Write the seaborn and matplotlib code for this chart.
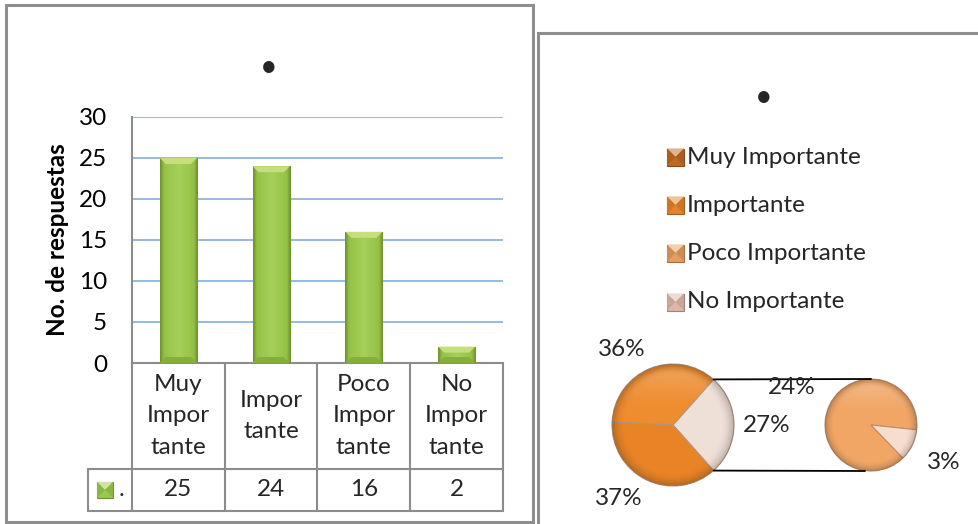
import numpy as np
import pandas as pd
import matplotlib
matplotlib.use("Agg")
import matplotlib.pyplot as plt
from matplotlib.patches import Rectangle, Polygon
from matplotlib.transforms import blended_transform_factory
from matplotlib.colors import to_rgb, LinearSegmentedColormap
import seaborn as sns

# ---- data ----
categories = ["Muy Importante", "Importante", "Poco Importante", "No Importante"]
category_ticks = ["Muy\nImpor\ntante", "Impor\ntante", "Poco\nImpor\ntante", "No\nImpor\ntante"]
responses = [25, 24, 16, 2]
y_ticks = [0, 5, 10, 15, 20, 25, 30]
y_label = "No. de respuestas"
series_name = "."
chart_title = "\u2022"

# ---- styling ----
W, H, DPI = 979, 524, 100
FS = 17.5
GRID = "#8DB3E2"
LINE = "#8C8C8C"
BAR_GREEN = "#9CC94C"
legend_colors = ["#BE6A22", "#E3842A", "#E69D5E", "#DDB8A8"]
main_colors = {"other": "#EFE0D7", "Importante": "#EE8C30", "Muy Importante": "#E88426"}
sec_colors = ["#F1A666", "#F6DDCD"]

sns.set_theme(style="white")
plt.rcParams["font.family"] = ["Lato", "DejaVu Sans"]

fig = plt.figure(figsize=(W / DPI, H / DPI), dpi=DPI)
fig.patch.set_facecolor("white")


def px_rect(x0, y0, x1, y1):
    return [x0 / W, 1 - y1 / H, (x1 - x0) / W, (y1 - y0) / H]


def bevel_square(axis, cx, cy, s, color):
    base = np.array(to_rgb(color))
    light = base + (1 - base) * 0.5
    dark = base * 0.72
    h = s / 2
    tl, tr, bl, br, c = (cx - h, cy + h), (cx + h, cy + h), (cx - h, cy - h), (cx + h, cy - h), (cx, cy)
    axis.add_patch(Polygon([bl, br, tr, tl], closed=True, fc=base, ec=dark, lw=0.8, zorder=5))
    axis.add_patch(Polygon([tl, tr, c], closed=True, fc=light, ec="none", zorder=6))
    axis.add_patch(Polygon([tl, bl, c], closed=True, fc=base * 0.9, ec="none", zorder=6))
    axis.add_patch(Polygon([tr, br, c], closed=True, fc=base * 0.9, ec="none", zorder=6))


def pct_label(axis, center, r, wedge, value, dist):
    """Percentage label just outside a wedge, aligned away from the pie."""
    mid = np.deg2rad((wedge.theta1 + wedge.theta2) / 2)
    c, s = np.cos(mid), np.sin(mid)
    x, y = center[0] + r * dist * c, center[1] + r * dist * s
    ha = "right" if c < -0.1 else ("left" if c > 0.1 else "center")
    va = "bottom" if s > 0.3 else ("top" if s < -0.3 else "center")
    axis.text(x, y, f"{round(100 * value / total)}%", ha=ha, va=va, fontsize=FS)


# ---- column chart ----
ax = fig.add_axes(px_rect(132, 117, 503, 363))
df = pd.DataFrame({"categoria": categories, "respuestas": responses})
sns.barplot(data=df, x="categoria", y="respuestas", color=BAR_GREEN, saturation=1,
            width=0.4, ax=ax, zorder=3, edgecolor="#6E8E2B", linewidth=0.6)

green_cmap = LinearSegmentedColormap.from_list(
    "bevel_green", [(0, "#6F8F2C"), (0.1, "#94C246"), (0.5, "#A6D05A"), (0.9, "#94C246"), (1, "#6F8F2C")])
grad = np.linspace(0, 1, 64)[None, :]
ppy = 246 / 30.0  # pixels per unit on the value axis
for bar in list(ax.patches):
    x0, y0 = bar.get_x(), bar.get_y()
    w, h = bar.get_width(), bar.get_height()
    im = ax.imshow(grad, cmap=green_cmap, extent=[x0, x0 + w, y0, y0 + h],
                   aspect="auto", zorder=3.1, interpolation="bicubic")
    im.set_clip_path(bar)
    bev = min(6 / ppy, h / 2)
    dx = w * 0.16
    top = y0 + h
    ax.add_patch(Polygon([(x0, top), (x0 + w, top), (x0 + w - dx, top - bev), (x0 + dx, top - bev)],
                         closed=True, fc="#C4DF7C", ec="none", zorder=3.2))
    ax.add_patch(Polygon([(x0, y0), (x0 + w, y0), (x0 + w - dx, y0 + bev), (x0 + dx, y0 + bev)],
                         closed=True, fc="#86AE3C", ec="none", zorder=3.2))

ax.set_xlim(-0.5, 3.5)
ax.set_ylim(0, 30)
ax.set_yticks(y_ticks)
ax.set_axisbelow(True)
ax.yaxis.grid(True, color=GRID, lw=1.3)
ax.xaxis.grid(False)
ax.tick_params(axis="x", length=0, labelbottom=False)
ax.tick_params(axis="y", length=0, pad=18, labelsize=FS, labelcolor="black")
ax.set_xlabel("")
ax.set_ylabel(y_label, fontsize=FS, fontweight="bold", color="black")
ax.yaxis.label.set_va("center")
ax.yaxis.set_label_coords(-0.2, 0.5)
for side in ("top", "right"):
    ax.spines[side].set_visible(False)
for side in ("left", "bottom"):
    ax.spines[side].set_color(LINE)
    ax.spines[side].set_linewidth(1.5)
ax.set_facecolor("white")

# data table under the columns
tb = blended_transform_factory(ax.transData, ax.transAxes)
row1 = -106 / 246
row2 = -148 / 246
key_left = -0.5 - 44 / 92.75
n = len(categories)
for i in range(n + 1):
    ax.plot([i - 0.5, i - 0.5], [0, row2], transform=tb, color=LINE, lw=1.5, clip_on=False)
for r in (row1, row2):
    ax.plot([key_left, n - 0.5], [r, r], transform=tb, color=LINE, lw=1.5, clip_on=False)
ax.plot([key_left, key_left], [row1, row2], transform=tb, color=LINE, lw=1.5, clip_on=False)
for i, (lab, val) in enumerate(zip(category_ticks, responses)):
    ax.text(i, row1 / 2, lab, transform=tb, ha="center", va="center", fontsize=FS,
            linespacing=1.62, clip_on=False)
    ax.text(i, (row1 + row2) / 2, f"{val}", transform=tb, ha="center", va="center",
            fontsize=FS, clip_on=False)

# ---- overlay in pixel units: frames, titles, pie of pie ----
ov = fig.add_axes([0, 0, 1, 1])
ov.set_xlim(0, W)
ov.set_ylim(0, H)
ov.axis("off")

ov.add_patch(Rectangle((6, H - 522), 527, 517, fill=False, ec="#8E8E8E", lw=2.2))
ov.add_patch(Rectangle((538, -20), 480, H - 33 + 20, fill=False, ec="#8E8E8E", lw=2.2))

ov.text(269, H - 67, chart_title, ha="center", va="center", fontsize=22)
ov.text(764, H - 97, chart_title, ha="center", va="center", fontsize=22)

# series key in the data table
bevel_square(ov, 105, H - 490, 16, BAR_GREEN)
ov.text(119, H - 490, series_name, ha="left", va="center", fontsize=FS)

# pie legend
leg_y = [157, 205, 253, 302]
for lab, col, yy in zip(categories, legend_colors, leg_y):
    bevel_square(ov, 675.5, H - yy, 17, col)
    ov.text(687, H - yy, lab, ha="left", va="center", fontsize=FS)

total = sum(responses)
other = sum(responses[2:])
main_vals = [other, responses[1], responses[0]]
main_cols = [main_colors["other"], main_colors["Importante"], main_colors["Muy Importante"]]
half_other = 180.0 * other / total

mc, mr = (673, H - 425), 61
sc, sr = (871, H - 425), 46

wedges_main, _ = ov.pie(
    main_vals, colors=main_cols, center=mc, radius=mr, startangle=-half_other,
    counterclock=True, wedgeprops=dict(edgecolor="#B09480", linewidth=0.8))
for wdg, v in zip(wedges_main, main_vals):
    pct_label(ov, mc, mr, wdg, v, 1.15)

sec_vals = responses[2:]
wedges_sec, _ = ov.pie(
    sec_vals, colors=sec_colors, center=sc, radius=sr, startangle=-6,
    counterclock=True, wedgeprops=dict(edgecolor="#B98E70", linewidth=0.8))
for wdg, v in zip(wedges_sec, sec_vals):
    pct_label(ov, sc, sr, wdg, v, 1.35)


# soft rim shading and top highlight on each slice
def shade(wedges, center, r):
    npx = 220
    xs = np.linspace(-1, 1, npx)
    X, Y = np.meshgrid(xs, xs)
    R = np.hypot(X, Y)
    dark = np.zeros((npx, npx, 4))
    dark[..., 3] = np.clip((R - 0.78) / 0.22, 0, 1) ** 2 * 0.22
    light = np.ones((npx, npx, 4))
    light[..., 3] = np.clip(Y - 0.35, 0, 1) * 0.35 * np.clip((0.97 - R) / 0.1, 0, 1)
    ext = [center[0] - r, center[0] + r, center[1] - r, center[1] + r]
    for wdg in wedges:
        for img in (dark, light):
            im = ov.imshow(img, extent=ext, origin="lower", aspect="auto",
                           interpolation="bilinear", zorder=2)
            im.set_clip_path(wdg)


shade(wedges_main, mc, mr)
shade(wedges_sec, sc, sr)

# connector lines between the two pies
a = np.deg2rad(half_other)
ov.plot([mc[0] + mr * np.cos(a), sc[0]], [mc[1] + mr * np.sin(a), sc[1] + sr], color="black", lw=1.3)
ov.plot([mc[0] + mr * np.cos(a), sc[0] - 6], [mc[1] - mr * np.sin(a), sc[1] - sr], color="black", lw=1.3)

ov.set_xlim(0, W)
ov.set_ylim(0, H)
ov.set_aspect("auto")

fig.savefig("out.png", dpi=DPI, facecolor="white")
